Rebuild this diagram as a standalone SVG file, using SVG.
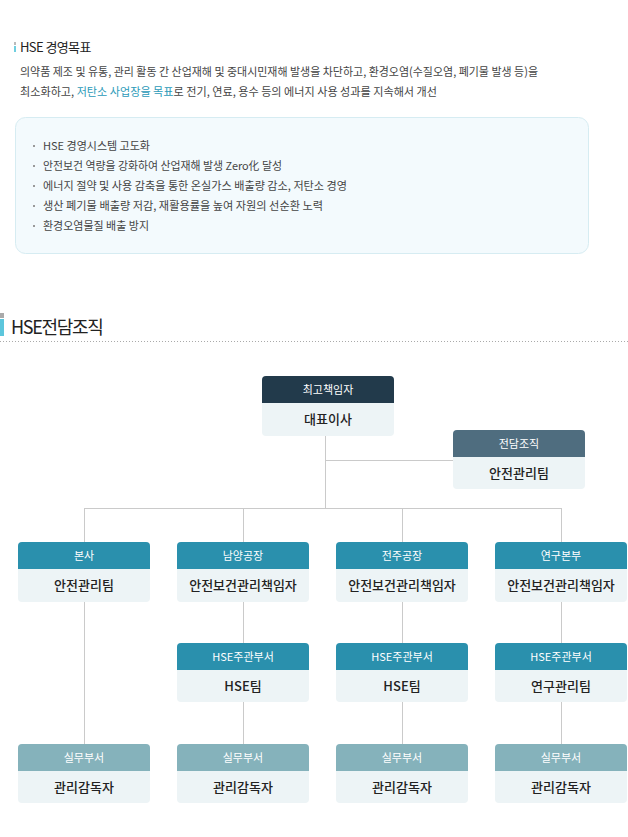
<svg xmlns="http://www.w3.org/2000/svg" width="628" height="837" viewBox="0 0 628 837">
<style>
text{font-family:"Noto Sans CJK KR","Noto Sans",sans-serif}
.h1{font-size:13px;fill:#222;letter-spacing:-0.6px}
.p{font-size:11.5px;fill:#444}
.hl{fill:#2b9ab8}
.li{font-size:11px;fill:#444}
.bul{fill:#999}
.h2{font-size:18px;fill:#222;letter-spacing:-1.3px}
.hd{font-size:11px;fill:#fff;text-anchor:middle}
.bd{font-size:13px;fill:#222;text-anchor:middle;font-weight:500}
.body{fill:#edf4f6}
.c1{fill:#223a4b}
.c2{fill:#4f6d7f}
.c3{fill:#2a90ad}
.c4{fill:#85b2bb}
.conn line{stroke:#cacaca;stroke-width:1}
</style>
<rect width="628" height="837" fill="#fff"/>
<g id="goal">
<rect x="14" y="42" width="2" height="3" fill="#bbb"/>
<rect x="14" y="46" width="2" height="6" fill="#6fcfe0"/>
<text class="h1" x="20" y="52">HSE 경영목표</text>
<text class="p" x="20" y="76" textLength="518" lengthAdjust="spacingAndGlyphs">의약품 제조 및 유통, 관리 활동 간 산업재해 및 중대시민재해 발생을 차단하고, 환경오염(수질오염, 폐기물 발생 등)을</text>
<text class="p" x="20" y="96" textLength="417" lengthAdjust="spacingAndGlyphs">최소화하고, <tspan class="hl">저탄소 사업장을 목표</tspan>로 전기, 연료, 용수 등의 에너지 사용 성과를 지속해서 개선</text>
<rect x="15.5" y="117.5" width="573" height="136" rx="10" fill="#f3fafd" stroke="#d6ecf2"/>
<rect class="bul" x="33" y="145" width="2" height="2"/>
<rect class="bul" x="33" y="165" width="2" height="2"/>
<rect class="bul" x="33" y="185" width="2" height="2"/>
<rect class="bul" x="33" y="205" width="2" height="2"/>
<rect class="bul" x="33" y="225" width="2" height="2"/>
<text class="li" x="43" y="150" textLength="107" lengthAdjust="spacingAndGlyphs">HSE 경영시스템 고도화</text>
<text class="li" x="43" y="170" textLength="239" lengthAdjust="spacingAndGlyphs">안전보건 역량을 강화하여 산업재해 발생 Zero化 달성</text>
<text class="li" x="43" y="190" textLength="304" lengthAdjust="spacingAndGlyphs">에너지 절약 및 사용 감축을 통한 온실가스 배출량 감소, 저탄소 경영</text>
<text class="li" x="43" y="210" textLength="280" lengthAdjust="spacingAndGlyphs">생산 폐기물 배출량 저감, 재활용률을 높여 자원의 선순환 노력</text>
<text class="li" x="43" y="230" textLength="106" lengthAdjust="spacingAndGlyphs">환경오염물질 배출 방지</text>
</g>
<g id="section-title">
<rect x="0" y="313" width="4" height="5" fill="#aaa"/>
<rect x="0" y="319" width="4" height="17" fill="#5cc6dc"/>
<text class="h2" x="11" y="334">HSE전담조직</text>
<line x1="0" y1="341.5" x2="628" y2="341.5" stroke="#aaa" stroke-dasharray="1 2"/>
</g>
<g class="conn" id="connectors">
<line x1="325.5" y1="436" x2="325.5" y2="508"/>
<line x1="325.5" y1="460.5" x2="453" y2="460.5"/>
<line x1="84.5" y1="508.5" x2="561.5" y2="508.5"/>
<line x1="84.5" y1="508" x2="84.5" y2="542"/>
<line x1="243.5" y1="508" x2="243.5" y2="542"/>
<line x1="402.5" y1="508" x2="402.5" y2="542"/>
<line x1="561.5" y1="508" x2="561.5" y2="542"/>
<line x1="84.5" y1="602" x2="84.5" y2="744"/>
<line x1="243.5" y1="602" x2="243.5" y2="643"/>
<line x1="402.5" y1="602" x2="402.5" y2="643"/>
<line x1="561.5" y1="602" x2="561.5" y2="643"/>
<line x1="243.5" y1="702" x2="243.5" y2="744"/>
<line x1="402.5" y1="702" x2="402.5" y2="744"/>
<line x1="561.5" y1="702" x2="561.5" y2="744"/>
</g>
<g id="ceo">
<rect class="body" x="262" y="376" width="132" height="60" rx="4"/>
<path class="c1" d="M262 403V380a4 4 0 0 1 4-4h124a4 4 0 0 1 4 4v23z"/>
<text class="hd" x="328" y="394">최고책임자</text>
<text class="bd" x="328" y="424">대표이사</text>
</g>
<g id="dedicated">
<rect class="body" x="453" y="430" width="132" height="59" rx="4"/>
<path class="c2" d="M453 457V434a4 4 0 0 1 4-4h124a4 4 0 0 1 4 4v23z"/>
<text class="hd" x="519" y="448">전담조직</text>
<text class="bd" x="519" y="478">안전관리팀</text>
</g>
<g id="hq">
<rect class="body" x="18" y="542" width="132" height="60" rx="4"/>
<path class="c3" d="M18 569V546a4 4 0 0 1 4-4h124a4 4 0 0 1 4 4v23z"/>
<text class="hd" x="84" y="560">본사</text>
<text class="bd" x="84" y="590">안전관리팀</text>
</g>
<g id="namyang">
<rect class="body" x="177" y="542" width="132" height="60" rx="4"/>
<path class="c3" d="M177 569V546a4 4 0 0 1 4-4h124a4 4 0 0 1 4 4v23z"/>
<text class="hd" x="243" y="560">남양공장</text>
<text class="bd" x="243" y="590">안전보건관리책임자</text>
</g>
<g id="jeonju">
<rect class="body" x="336" y="542" width="132" height="60" rx="4"/>
<path class="c3" d="M336 569V546a4 4 0 0 1 4-4h124a4 4 0 0 1 4 4v23z"/>
<text class="hd" x="402" y="560">전주공장</text>
<text class="bd" x="402" y="590">안전보건관리책임자</text>
</g>
<g id="research">
<rect class="body" x="495" y="542" width="132" height="60" rx="4"/>
<path class="c3" d="M495 569V546a4 4 0 0 1 4-4h124a4 4 0 0 1 4 4v23z"/>
<text class="hd" x="561" y="560">연구본부</text>
<text class="bd" x="561" y="590">안전보건관리책임자</text>
</g>
<g id="namyang-hse">
<rect class="body" x="177" y="643" width="132" height="59" rx="4"/>
<path class="c3" d="M177 670V647a4 4 0 0 1 4-4h124a4 4 0 0 1 4 4v23z"/>
<text class="hd" x="243" y="661">HSE주관부서</text>
<text class="bd" x="243" y="691">HSE팀</text>
</g>
<g id="jeonju-hse">
<rect class="body" x="336" y="643" width="132" height="59" rx="4"/>
<path class="c3" d="M336 670V647a4 4 0 0 1 4-4h124a4 4 0 0 1 4 4v23z"/>
<text class="hd" x="402" y="661">HSE주관부서</text>
<text class="bd" x="402" y="691">HSE팀</text>
</g>
<g id="research-hse">
<rect class="body" x="495" y="643" width="132" height="59" rx="4"/>
<path class="c3" d="M495 670V647a4 4 0 0 1 4-4h124a4 4 0 0 1 4 4v23z"/>
<text class="hd" x="561" y="661">HSE주관부서</text>
<text class="bd" x="561" y="691">연구관리팀</text>
</g>
<g id="hq-work">
<rect class="body" x="18" y="744" width="132" height="59" rx="4"/>
<path class="c4" d="M18 771V748a4 4 0 0 1 4-4h124a4 4 0 0 1 4 4v23z"/>
<text class="hd" x="84" y="762">실무부서</text>
<text class="bd" x="84" y="792">관리감독자</text>
</g>
<g id="namyang-work">
<rect class="body" x="177" y="744" width="132" height="59" rx="4"/>
<path class="c4" d="M177 771V748a4 4 0 0 1 4-4h124a4 4 0 0 1 4 4v23z"/>
<text class="hd" x="243" y="762">실무부서</text>
<text class="bd" x="243" y="792">관리감독자</text>
</g>
<g id="jeonju-work">
<rect class="body" x="336" y="744" width="132" height="59" rx="4"/>
<path class="c4" d="M336 771V748a4 4 0 0 1 4-4h124a4 4 0 0 1 4 4v23z"/>
<text class="hd" x="402" y="762">실무부서</text>
<text class="bd" x="402" y="792">관리감독자</text>
</g>
<g id="research-work">
<rect class="body" x="495" y="744" width="132" height="59" rx="4"/>
<path class="c4" d="M495 771V748a4 4 0 0 1 4-4h124a4 4 0 0 1 4 4v23z"/>
<text class="hd" x="561" y="762">실무부서</text>
<text class="bd" x="561" y="792">관리감독자</text>
</g>
</svg>
